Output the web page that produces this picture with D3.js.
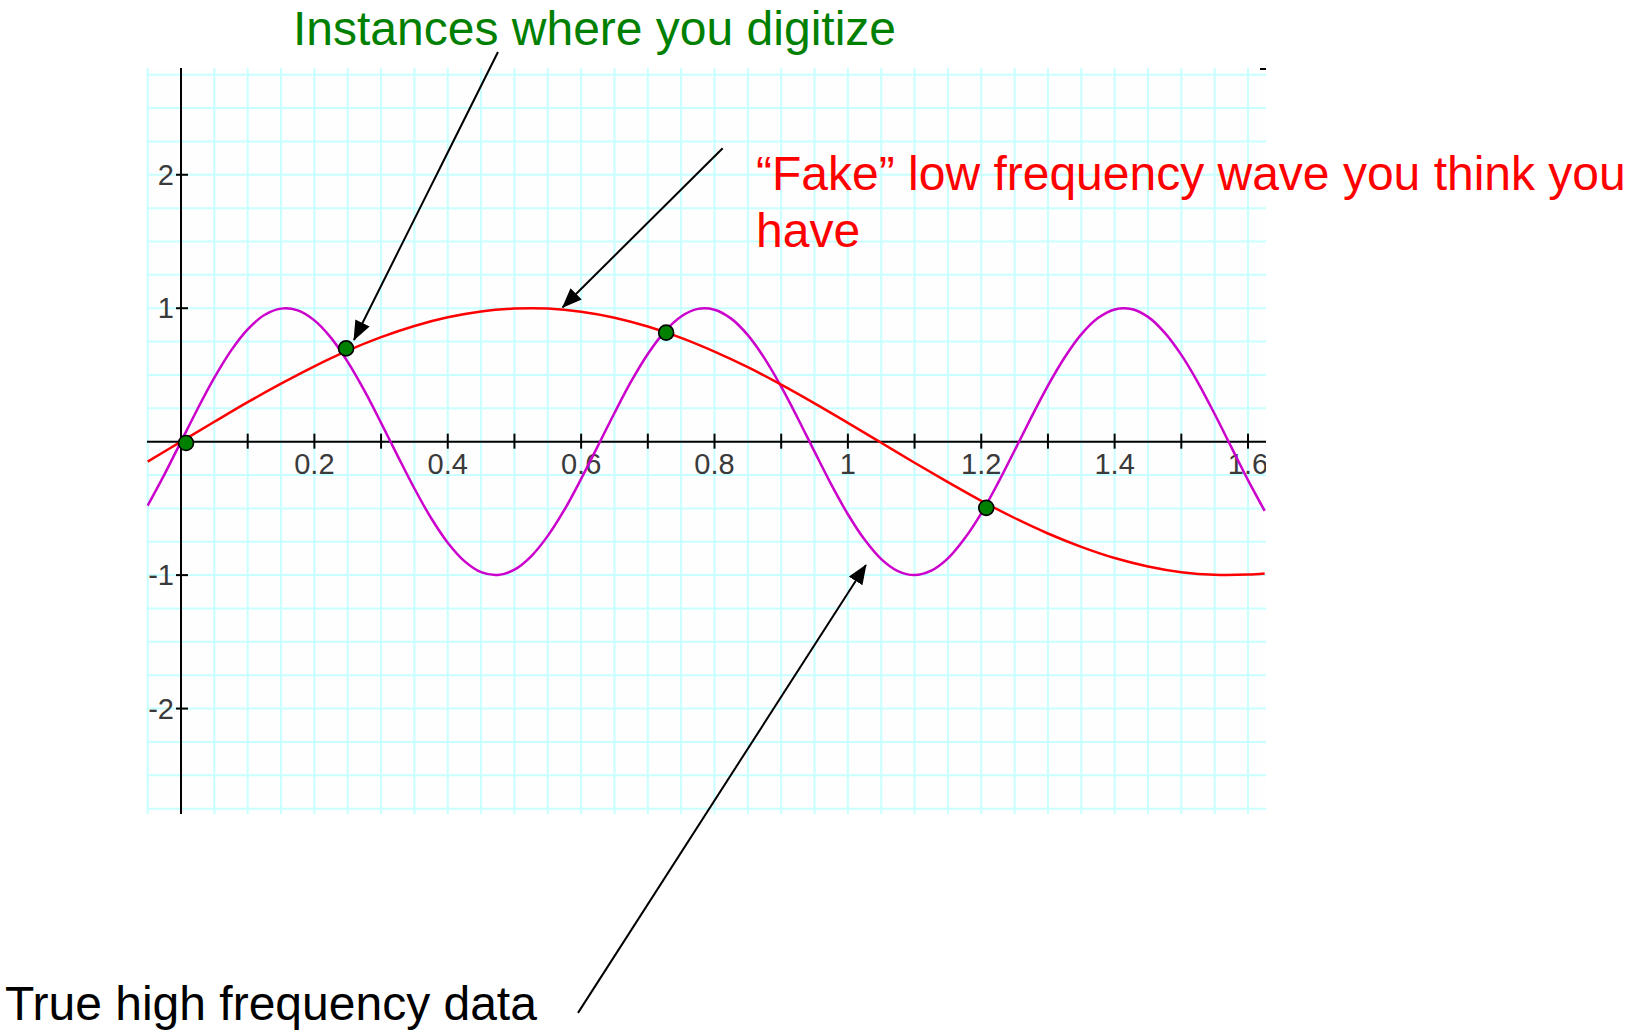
<!DOCTYPE html>
<html>
<head>
<meta charset="utf-8">
<script src="https://cdn.jsdelivr.net/npm/d3@7"></script>
<style>
  html, body { margin: 0; padding: 0; background: #ffffff; }
  svg { display: block; }
</style>
</head>
<body>
<script>
// ---------- data ----------
// True high frequency data (magenta)
const trueX = [-0.05,-0.025,0,0.025,0.05,0.075,0.1,0.125,0.15,0.175,0.2,0.225,0.25,0.275,0.3,0.325,0.35,0.375,0.4,0.425,0.45,0.475,0.5,0.525,0.55,0.575,0.6,0.625,0.65,0.675,0.7,0.725,0.75,0.775,0.8,0.825,0.85,0.875,0.9,0.925,0.95,0.975,1.0,1.025,1.05,1.075,1.1,1.125,1.15,1.175,1.2,1.225,1.25,1.275,1.3,1.325,1.35,1.375,1.4,1.425,1.45,1.475,1.5,1.525,1.55,1.575,1.6,1.625];
const trueY = [-0.479,-0.247,0,0.247,0.479,0.682,0.841,0.949,0.997,0.984,0.909,0.778,0.598,0.382,0.141,-0.108,-0.351,-0.572,-0.757,-0.895,-0.978,-0.999,-0.959,-0.859,-0.706,-0.510,-0.279,-0.033,0.215,0.451,0.657,0.823,0.938,0.995,0.989,0.922,0.798,0.624,0.412,0.174,-0.075,-0.320,-0.544,-0.734,-0.880,-0.970,-1.000,-0.967,-0.875,-0.726,-0.537,-0.311,-0.066,0.182,0.420,0.631,0.804,0.926,0.991,0.994,0.935,0.817,0.650,0.443,0.207,-0.041,-0.288,-0.518];
// "Fake" low frequency wave (red)
const fakeX = [-0.05,0,0.05,0.1,0.15,0.2,0.25,0.3,0.35,0.4,0.45,0.5,0.55,0.6,0.65,0.7,0.75,0.8,0.85,0.9,0.95,1.0,1.05,1.1,1.15,1.2,1.25,1.3,1.35,1.4,1.45,1.5,1.55,1.6,1.625];
const fakeY = [-0.149,0,0.149,0.296,0.435,0.565,0.682,0.783,0.867,0.932,0.976,0.997,0.997,0.974,0.929,0.863,0.778,0.675,0.558,0.427,0.287,0.141,-0.008,-0.158,-0.303,-0.443,-0.572,-0.688,-0.788,-0.872,-0.935,-0.978,-0.998,-0.996,-0.987];
// Digitized samples (green dots)
const sampleX = [0.0075, 0.2475, 0.7275, 1.2075];
const sampleY = [-0.01, 0.699, 0.817, -0.496];
// Axis ticks
const xTickValues = [0.1,0.2,0.3,0.4,0.5,0.6,0.7,0.8,0.9,1.0,1.1,1.2,1.3,1.4,1.5,1.6];
const xTickLabels = ["0.2","0.4","0.6","0.8","1","1.2","1.4","1.6"];
const xLabelValues = [0.2,0.4,0.6,0.8,1.0,1.2,1.4,1.6];
const yTickValues = [-2,-1,1,2];
const yTickLabels = ["-2","-1","1","2"];
// Annotation texts
const labelDigitize = "Instances where you digitize";
const labelFake1 = "\u201CFake\u201D low frequency wave you think you";
const labelFake2 = "have";
const labelTrue = "True high frequency data";
// Arrows (data coordinates: from -> to)
const arrowFromX = [0.4753, 0.8123, 0.5953];
const arrowFromY = [2.92, 2.199, -4.28];
const arrowToX = [0.2594, 0.5723, 1.0271];
const arrowToY = [0.762, 1.007, -0.924];

// ---------- layout ----------
const W = 1629, H = 1034;
const plot = { left: 147, right: 1266, top: 68, bottom: 814 };

const svg = d3.select("body").append("svg").attr("width", W).attr("height", H);
const x = d3.scaleLinear().domain([-0.051, 1.627]).range([plot.left, plot.right]);
const y = d3.scaleLinear().domain([-2.79, 2.80]).range([plot.bottom, plot.top]);

const defs = svg.append("defs");
defs.append("clipPath").attr("id", "plotclip").append("rect")
  .attr("x", plot.left).attr("y", plot.top - 2)
  .attr("width", plot.right - plot.left).attr("height", plot.bottom - plot.top + 4);
defs.append("marker").attr("id", "arrowhead")
  .attr("viewBox", "0 0 20 16").attr("refX", 19).attr("refY", 8)
  .attr("markerWidth", 20).attr("markerHeight", 16)
  .attr("markerUnits", "userSpaceOnUse").attr("orient", "auto")
  .append("path").attr("d", "M0,0 L20,8 L0,16 Z").attr("fill", "#000");

// background
svg.append("rect").attr("x", plot.left).attr("y", plot.top)
  .attr("width", plot.right - plot.left).attr("height", plot.bottom - plot.top)
  .attr("fill", "#fefefe");

// grid
const gridColor = "#c8ffff";
const gx = d3.range(-0.05, 1.6251, 0.05);
const gy = d3.range(-2.75, 2.7501, 0.25);
const grid = svg.append("g");
grid.selectAll("line.v").data(gx).join("line")
  .attr("x1", d => x(d)).attr("x2", d => x(d))
  .attr("y1", plot.top).attr("y2", plot.bottom)
  .attr("stroke", gridColor).attr("stroke-width", 2);
grid.selectAll("line.h").data(gy).join("line")
  .attr("x1", plot.left).attr("x2", plot.right)
  .attr("y1", d => y(d)).attr("y2", d => y(d))
  .attr("stroke", gridColor).attr("stroke-width", 2);

// axes lines
svg.append("line").attr("x1", plot.left).attr("x2", plot.right)
  .attr("y1", y(0)).attr("y2", y(0)).attr("stroke", "#000").attr("stroke-width", 2);
svg.append("line").attr("x1", x(0)).attr("x2", x(0))
  .attr("y1", plot.top).attr("y2", plot.bottom).attr("stroke", "#000").attr("stroke-width", 2);
svg.append("line").attr("x1", plot.right - 6).attr("x2", plot.right)
  .attr("y1", plot.top + 1).attr("y2", plot.top + 1).attr("stroke", "#000").attr("stroke-width", 2);

// ticks
const ticks = svg.append("g");
ticks.selectAll("line.xt").data(xTickValues).join("line")
  .attr("x1", d => x(d)).attr("x2", d => x(d))
  .attr("y1", y(0) - 8).attr("y2", y(0) + 7)
  .attr("stroke", "#000").attr("stroke-width", 2);
ticks.selectAll("line.yt").data(yTickValues).join("line")
  .attr("x1", x(0) - 5).attr("x2", x(0) + 7)
  .attr("y1", d => y(d)).attr("y2", d => y(d))
  .attr("stroke", "#000").attr("stroke-width", 2);

const tickFont = "'Liberation Sans', Arial, sans-serif";
const labels = svg.append("g").attr("clip-path", "url(#plotclip)");
labels.selectAll("text.xl").data(xLabelValues).join("text")
  .attr("x", d => x(d)).attr("y", y(0) + 32)
  .attr("text-anchor", "middle")
  .attr("font-family", tickFont).attr("font-size", 29)
  .attr("fill", "#3a3a3a")
  .text((d, i) => xTickLabels[i]);
labels.selectAll("text.yl").data(yTickValues).join("text")
  .attr("x", x(0) - 7).attr("y", d => y(d) + 10)
  .attr("text-anchor", "end")
  .attr("font-family", tickFont).attr("font-size", 29)
  .attr("fill", "#3a3a3a")
  .text((d, i) => yTickLabels[i]);

// curves
const curves = svg.append("g").attr("clip-path", "url(#plotclip)");
const line = d3.line().x(d => x(d[0])).y(d => y(d[1])).curve(d3.curveCatmullRom.alpha(0.5));
curves.append("path").datum(trueX.map((v, i) => [v, trueY[i]]))
  .attr("d", line).attr("fill", "none").attr("stroke", "#cc00cc").attr("stroke-width", 2.5);
curves.append("path").datum(fakeX.map((v, i) => [v, fakeY[i]]))
  .attr("d", line).attr("fill", "none").attr("stroke", "#ff0000").attr("stroke-width", 2.5);

// sample dots
svg.append("g").selectAll("circle").data(sampleX).join("circle")
  .attr("cx", d => x(d)).attr("cy", (d, i) => y(sampleY[i]))
  .attr("r", 7.5).attr("fill", "#008000").attr("stroke", "#000").attr("stroke-width", 1.6);

// arrows
svg.append("g").selectAll("line").data(arrowFromX).join("line")
  .attr("x1", d => x(d)).attr("y1", (d, i) => y(arrowFromY[i]))
  .attr("x2", (d, i) => x(arrowToX[i])).attr("y2", (d, i) => y(arrowToY[i]))
  .attr("stroke", "#000").attr("stroke-width", 2)
  .attr("marker-end", "url(#arrowhead)");

// annotation texts
const annFont = "'Liberation Sans', Arial, sans-serif";
svg.append("text").attr("x", 293).attr("y", 45)
  .attr("font-family", annFont).attr("font-size", 48).attr("fill", "#008000")
  .text(labelDigitize);
svg.append("text").attr("x", 756).attr("y", 190)
  .attr("font-family", annFont).attr("font-size", 48).attr("fill", "#ff0000")
  .text(labelFake1);
svg.append("text").attr("x", 756).attr("y", 247)
  .attr("font-family", annFont).attr("font-size", 48).attr("fill", "#ff0000")
  .text(labelFake2);
svg.append("text").attr("x", 5).attr("y", 1020)
  .attr("font-family", annFont).attr("font-size", 48).attr("fill", "#000000")
  .text(labelTrue);
</script>
</body>
</html>
